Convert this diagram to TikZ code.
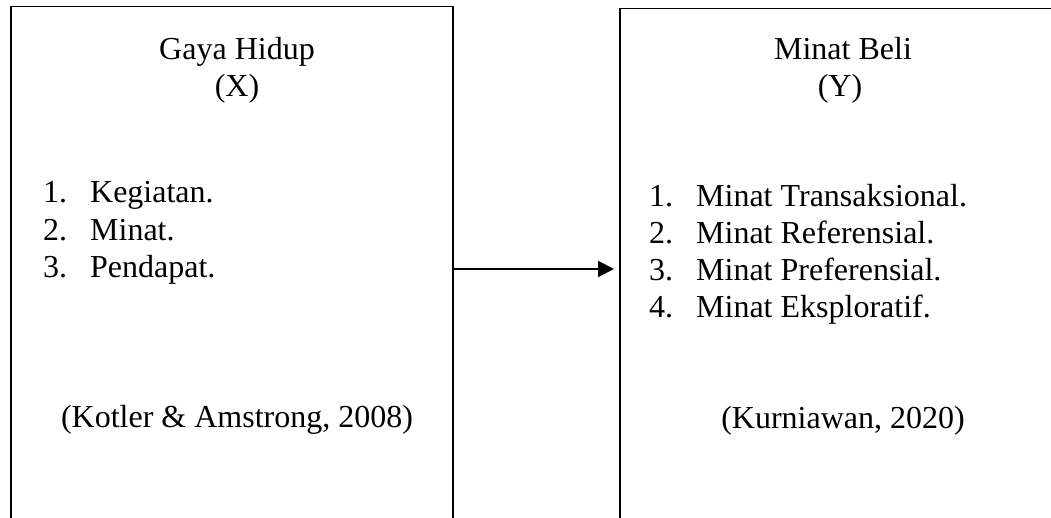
\documentclass[tikz,border=0pt]{standalone}
\usepackage{fontspec}
\setmainfont{Liberation Serif}
\usetikzlibrary{arrows.meta}
\tikzset{
  box/.style={draw, line width=1.5pt, rectangle, inner sep=0pt, anchor=north west},
  txt/.style={inner sep=0pt, anchor=base, font=\fontsize{32}{37}\selectfont},
  item/.style={inner sep=0pt, anchor=base west, font=\fontsize{32}{37}\selectfont},
  arr/.style={line width=2pt, -{Triangle[length=16pt,width=16pt]}, shorten >=5pt}
}
\newcommand{\numitem}[2]{\makebox[47pt][l]{#1}#2}
\begin{document}
\begin{tikzpicture}[x=1pt,y=-1pt]
\useasboundingbox (0,0) rectangle (1051,518);
\clip (0,0) rectangle (1051,518);
\fill[white] (0,0) rectangle (1051,518);
% boxes
\node[box, minimum width=442pt, minimum height=600pt] (L) at (10,6) {};
\node[box, minimum width=480pt, minimum height=600pt] (R) at (619,8) {};
% left box texts
\node[txt] (lt1) at (237,60) {Gaya Hidup};
\node[txt] (lt2) at (237,97) {(X)};
\node[item] (li1) at (43,203) {\numitem{1.}{Kegiatan.}};
\node[item] (li2) at (43,241) {\numitem{2.}{Minat.}};
\node[item] (li3) at (43,278) {\numitem{3.}{Pendapat.}};
\node[txt] (lref) at (237,427) {(Kotler \& Amstrong, 2008)};
% right box texts
\node[txt] (rt1) at (843,60) {Minat Beli};
\node[txt] (rt2) at (840,97) {(Y)};
\node[item] (ri1) at (649,207) {\numitem{1.}{Minat Transaksional.}};
\node[item] (ri2) at (649,244) {\numitem{2.}{Minat Referensial.}};
\node[item] (ri3) at (649,281) {\numitem{3.}{Minat Preferensial.}};
\node[item] (ri4) at (649,317) {\numitem{4.}{Minat Eksploratif.}};
\node[txt] (rref) at (843,428) {(Kurniawan, 2020)};
% arrow
\coordinate (ay) at (0,269);
\draw[arr] (L.east |- ay) -- (R.west |- ay);
\end{tikzpicture}
\end{document}
